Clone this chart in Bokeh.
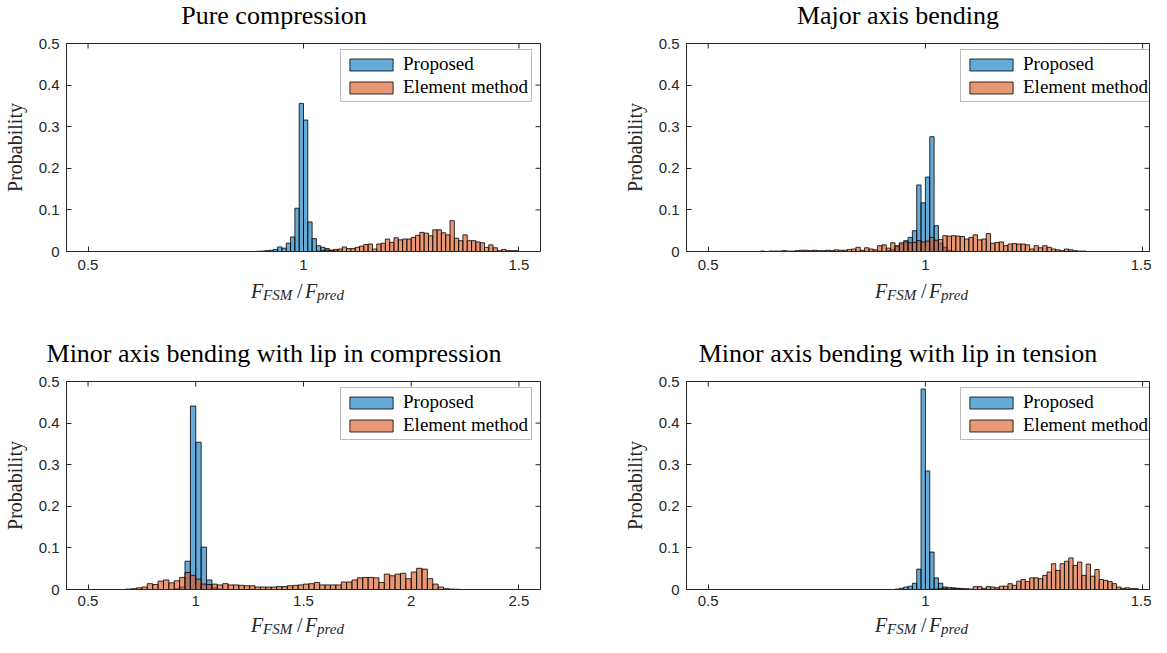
import numpy as np
from bokeh.plotting import figure
from bokeh.layouts import column, row
from bokeh.models import Range1d, FixedTicker, CustomJSTickFormatter, Legend, LegendItem, ColumnDataSource
from bokeh.core.properties import value
from bokeh.embed import file_html
from bokeh.resources import INLINE

# ---------------- data (probability per bin) ----------------
SERIES_NAMES = ["Proposed", "Element method"]
TITLES = ["Pure compression", "Major axis bending",
          "Minor axis bending with lip in compression", "Minor axis bending with lip in tension"]
Y_LABEL = "Probability"
X_LABEL_PARTS = ["F", "FSM", "/", "F", "pred"]   # F_FSM / F_pred

# bins of width 0.01 starting at 0.5 (100 bins) for panels 1, 2, 4
BIN_START_A, BIN_WIDTH_A = 0.5, 0.01
# bins of width 0.025 starting at 0.5 (80 bins) for panel 3
BIN_START_B, BIN_WIDTH_B = 0.5, 0.025

pure_proposed = [
    0, 0, 0, 0, 0, 0, 0, 0, 0, 0,
    0, 0, 0, 0, 0, 0, 0, 0, 0, 0,
    0, 0, 0, 0, 0, 0, 0, 0, 0, 0,
    0, 0, 0, 0, 0, 0, 0, 0, 0, 0.0005,
    0.001, 0.002, 0.003, 0.005, 0.011, 0.008, 0.020, 0.035, 0.104, 0.356,
    0.316, 0.071, 0.031, 0.014, 0.010, 0.007, 0.003, 0.002, 0.001, 0,
    0, 0, 0, 0, 0, 0, 0, 0, 0, 0,
    0, 0, 0, 0, 0, 0, 0, 0, 0, 0,
    0, 0, 0, 0, 0, 0, 0, 0, 0, 0,
    0, 0, 0, 0, 0, 0, 0, 0, 0, 0]
pure_element = [
    0, 0, 0, 0, 0, 0, 0, 0, 0, 0,
    0, 0, 0, 0, 0, 0, 0, 0, 0, 0,
    0, 0, 0, 0, 0, 0, 0, 0, 0, 0,
    0, 0, 0, 0, 0, 0, 0, 0, 0, 0,
    0, 0, 0, 0, 0, 0, 0, 0, 0, 0,
    0, 0, 0, 0.001, 0.002, 0.003, 0.003, 0.005, 0.006, 0.011,
    0.007, 0.007, 0.010, 0.013, 0.017, 0.018, 0.006, 0.018, 0.020, 0.030,
    0.022, 0.033, 0.028, 0.030, 0.030, 0.034, 0.039, 0.046, 0.044, 0.038,
    0.052, 0.052, 0.045, 0.040, 0.074, 0.032, 0.026, 0.040, 0.026, 0.026,
    0.023, 0.021, 0.010, 0.016, 0.009, 0.002, 0.005, 0.002, 0.002, 0.002]

major_proposed = [
    0, 0, 0, 0, 0, 0, 0, 0, 0, 0,
    0, 0, 0, 0, 0, 0, 0, 0, 0, 0,
    0, 0, 0, 0, 0, 0, 0, 0, 0, 0,
    0, 0, 0, 0, 0, 0, 0, 0, 0.001, 0.001,
    0, 0.002, 0.004, 0.012, 0.018, 0.026, 0.034, 0.050, 0.160, 0.117,
    0.179, 0.276, 0.062, 0.020, 0.010, 0.003, 0.001, 0, 0, 0,
    0, 0, 0, 0, 0, 0, 0, 0, 0, 0,
    0, 0, 0, 0, 0, 0, 0, 0, 0, 0,
    0, 0, 0, 0, 0, 0, 0, 0, 0, 0,
    0, 0, 0, 0, 0, 0, 0, 0, 0, 0]
major_element = [
    0, 0, 0, 0, 0, 0, 0, 0, 0, 0,
    0, 0, 0.001, 0, 0.001, 0.001, 0.001, 0.002, 0.001, 0.001,
    0.002, 0.003, 0.003, 0.002, 0.003, 0.002, 0.002, 0.003, 0.002, 0.004,
    0.003, 0.003, 0.005, 0.006, 0.010, 0.003, 0.009, 0.006, 0.004, 0.014,
    0.016, 0.008, 0.021, 0.014, 0.021, 0.023, 0.021, 0.022, 0.026, 0.023,
    0.025, 0.034, 0.027, 0.029, 0.038, 0.037, 0.038, 0.037, 0.036, 0.030,
    0.034, 0.040, 0.028, 0.030, 0.043, 0.020, 0.022, 0.023, 0.014, 0.018,
    0.019, 0.018, 0.018, 0.016, 0.006, 0.014, 0.009, 0.014, 0.010, 0.006,
    0.004, 0.002, 0.006, 0.004, 0.002, 0.001, 0.001, 0, 0, 0,
    0, 0, 0, 0, 0, 0, 0, 0, 0, 0]

lipc_proposed = [
    0, 0, 0, 0, 0, 0, 0, 0, 0, 0,
    0, 0, 0, 0, 0, 0, 0.002, 0.006, 0.068, 0.441,
    0.354, 0.102, 0.023, 0.004, 0.001, 0, 0, 0, 0, 0,
    0, 0, 0, 0, 0, 0, 0, 0, 0, 0,
    0, 0, 0, 0, 0, 0, 0, 0, 0, 0,
    0, 0, 0, 0, 0, 0, 0, 0, 0, 0,
    0, 0, 0, 0, 0, 0, 0, 0, 0, 0,
    0, 0, 0, 0, 0, 0, 0, 0, 0, 0]
lipc_element = [
    0, 0, 0, 0, 0, 0, 0, 0.001, 0.002, 0.004,
    0.006, 0.014, 0.012, 0.020, 0.023, 0.016, 0.021, 0.029, 0.041, 0.034,
    0.025, 0.013, 0.012, 0.013, 0.011, 0.014, 0.011, 0.011, 0.010, 0.009,
    0.009, 0.006, 0.006, 0.006, 0.006, 0.007, 0.007, 0.009, 0.010, 0.011,
    0.013, 0.014, 0.017, 0.011, 0.011, 0.011, 0.011, 0.018, 0.018, 0.023,
    0.028, 0.029, 0.029, 0.028, 0.017, 0.037, 0.033, 0.037, 0.039, 0.026,
    0.042, 0.051, 0.049, 0.026, 0.013, 0.006, 0.002, 0.001, 0.0005, 0,
    0, 0, 0, 0, 0, 0, 0, 0, 0, 0]

lipt_proposed = [
    0, 0, 0, 0, 0, 0, 0, 0, 0, 0,
    0, 0, 0, 0, 0, 0, 0, 0, 0, 0,
    0, 0, 0, 0, 0, 0, 0, 0, 0, 0,
    0, 0, 0, 0, 0, 0, 0, 0, 0, 0,
    0, 0, 0, 0.001, 0.003, 0.006, 0.008, 0.015, 0.049, 0.482,
    0.285, 0.090, 0.028, 0.015, 0.006, 0.005, 0.004, 0.002, 0.001, 0,
    0, 0, 0, 0, 0, 0, 0, 0, 0, 0,
    0, 0, 0, 0, 0, 0, 0, 0, 0, 0,
    0, 0, 0, 0, 0, 0, 0, 0, 0, 0,
    0, 0, 0, 0, 0, 0, 0, 0, 0, 0]
lipt_element = [
    0, 0, 0, 0, 0, 0, 0, 0, 0, 0,
    0, 0, 0, 0, 0, 0, 0, 0, 0, 0,
    0, 0, 0, 0, 0, 0, 0, 0, 0, 0,
    0, 0, 0, 0, 0, 0, 0, 0, 0, 0,
    0, 0, 0, 0, 0, 0, 0, 0, 0, 0,
    0, 0.001, 0.001, 0.002, 0.002, 0.001, 0.002, 0.003, 0.002, 0.002,
    0.001, 0.007, 0.007, 0.003, 0.007, 0.006, 0.004, 0.008, 0.008, 0.014,
    0.010, 0.020, 0.024, 0.019, 0.028, 0.028, 0.026, 0.034, 0.042, 0.062,
    0.046, 0.062, 0.068, 0.076, 0.058, 0.066, 0.034, 0.061, 0.032, 0.048,
    0.024, 0.022, 0.019, 0.014, 0.006, 0.003, 0.004, 0.002, 0.002, 0]

XTICKS_A = [0.5, 1, 1.5]
XTICKS_B = [0.5, 1, 1.5, 2, 2.5]
YTICKS = [0, 0.1, 0.2, 0.3, 0.4, 0.5]

# ---------------- style / layout ----------------
BLUE = "#0072BD"
ORANGE = "#D95319"
AXC = "#262626"
SANS = "Liberation Sans"
SERIF = "Liberation Serif"
FH = 208             # frame height (px)
PX_PER_UNIT = 483 / 1.1
W_L, W_R = 620, 531  # column widths
BL_L, BR_L = 57, 80  # left column borders
BL_R, BR_R = 61, 2   # right column borders
TICK = 5


def make_panel(blue, orange, b0, bw, xr, xticks, width, bl, br, bt, bb, x_standoff):
    height = bt + FH + bb
    p = figure(width=width, height=height, x_range=Range1d(*xr), y_range=Range1d(0, 0.5),
               output_backend="svg", toolbar_location=None, title=None,
               min_border_left=bl, min_border_right=br, min_border_top=bt, min_border_bottom=bb)
    p.background_fill_color = "white"
    p.border_fill_color = "white"
    p.outline_line_color = AXC
    p.outline_line_width = 1
    p.xgrid.visible = False
    p.ygrid.visible = False

    n = len(blue)
    left = b0 + bw * np.arange(n)
    src_b = ColumnDataSource(dict(left=left, right=left + bw, top=blue))
    src_o = ColumnDataSource(dict(left=left, right=left + bw, top=orange))
    rb = p.quad(left="left", right="right", bottom=0, top="top", source=src_b,
                fill_color=BLUE, fill_alpha=0.6, line_color="black", line_width=0.8)
    ro = p.quad(left="left", right="right", bottom=0, top="top", source=src_o,
                fill_color=ORANGE, fill_alpha=0.6, line_color="black", line_width=0.8)

    # box ticks on the top and right edges (MATLAB style box)
    fw = width - bl - br
    dy = TICK * 0.5 / FH
    dx = TICK * (xr[1] - xr[0]) / fw
    p.segment(x0=xticks, x1=xticks, y0=[0.5] * len(xticks), y1=[0.5 - dy] * len(xticks),
              line_color=AXC, line_width=1)
    p.segment(x0=[xr[1]] * len(YTICKS), x1=[xr[1] - dx] * len(YTICKS), y0=YTICKS, y1=YTICKS,
              line_color=AXC, line_width=1)

    fmt = CustomJSTickFormatter(code="return String(Math.round(tick*100)/100);")
    for ax, tk in ((p.xaxis[0], xticks), (p.yaxis[0], YTICKS)):
        ax.ticker = FixedTicker(ticks=tk)
        ax.formatter = fmt
        ax.major_tick_in = TICK
        ax.major_tick_out = 0
        ax.minor_tick_line_color = None
        ax.major_tick_line_color = AXC
        ax.axis_line_color = AXC
        ax.major_label_text_font = SANS
        ax.major_label_text_font_size = "15px"
        ax.major_label_text_color = AXC
    p.xaxis.major_label_standoff = x_standoff
    p.yaxis.major_label_standoff = 7
    p.yaxis.axis_label = Y_LABEL
    p.yaxis.axis_label_text_font = SERIF
    p.yaxis.axis_label_text_font_size = "20px"
    p.yaxis.axis_label_text_font_style = "normal"
    p.yaxis.axis_label_text_color = AXC
    p.yaxis.axis_label_standoff = 10

    leg = Legend(items=[LegendItem(label=SERIES_NAMES[0], renderers=[rb]),
                        LegendItem(label=SERIES_NAMES[1], renderers=[ro])],
                 location=(274, 149), glyph_width=54, glyph_height=15, label_height=15,
                 label_text_font=SERIF, label_text_font_size="19px", label_text_color="black",
                 spacing=1, padding=3, margin=0, label_standoff=5,
                 border_line_color="#7a7a7a", border_line_width=1,
                 background_fill_color="white", background_fill_alpha=1)
    p.add_layout(leg)
    return p


def text_strip(width, height, titles=(), xlabels=()):
    """A figure holding only texts: titles (centre x, middle y) and x-labels (centre x, middle y)."""
    f = figure(width=width, height=height, x_range=Range1d(0, width), y_range=Range1d(0, height),
               output_backend="svg", toolbar_location=None, title=None,
               x_axis_type=None, y_axis_type=None, min_border=0)
    f.outline_line_color = None
    f.background_fill_color = "white"
    f.border_fill_color = "white"
    for (tx, ty, txt) in titles:
        f.text(x=[tx], y=[ty], text=[txt], text_font=value(SERIF), text_font_size="26px",
               text_align="center", text_baseline="middle", text_color="black")
    for (cx, my) in xlabels:
        start = cx - 48
        offs = [(0, 0, "20px", "italic"), (12, -4, "15px", "italic"), (46, 0, "20px", "normal"),
                (54, 0, "20px", "italic"), (66, -4, "15px", "italic")]
        for txt, (dx, ddy, fs, st) in zip(X_LABEL_PARTS, offs):
            f.text(x=[start + dx], y=[my + ddy], text=[txt], text_font=value(SERIF),
                   text_font_size=fs, text_font_style=st, text_align="left",
                   text_baseline="middle", text_color=AXC)
    return f


x_end_right = 0.45 + (W_R - BL_R - BR_R) / PX_PER_UNIT

# top row (page y: frame 51..259)
p1 = make_panel(pure_proposed, pure_element, BIN_START_A, BIN_WIDTH_A, (0.45, 1.55),
                XTICKS_A, W_L, BL_L, BR_L, 13, 28, 8)
p2 = make_panel(major_proposed, major_element, BIN_START_A, BIN_WIDTH_A, (0.45, x_end_right),
                XTICKS_A, W_R, BL_R, BR_R, 13, 28, 8)
# bottom row (page y: frame 389..597)
p3 = make_panel(lipc_proposed, lipc_element, BIN_START_B, BIN_WIDTH_B, (0.4, 2.6),
                XTICKS_B, W_L, BL_L, BR_L, 13, 23, 6)
p4 = make_panel(lipt_proposed, lipt_element, BIN_START_A, BIN_WIDTH_A, (0.45, x_end_right),
                XTICKS_A, W_R, BL_R, BR_R, 13, 23, 6)

TITLE_DX = 216.5        # title centre, measured from frame left
XL_DX = 241.5           # x-label centre, measured from frame left
t_top_l = text_strip(W_L, 30, titles=[(BL_L + TITLE_DX, 15, TITLES[0])])
t_top_r = text_strip(W_R, 30, titles=[(BL_R + TITLE_DX, 15, TITLES[1])])
mid_l = text_strip(W_L, 89, titles=[(BL_L + TITLE_DX, 15, TITLES[2])], xlabels=[(BL_L + XL_DX, 78)])
mid_r = text_strip(W_R, 89, titles=[(BL_R + TITLE_DX, 15, TITLES[3])], xlabels=[(BL_R + XL_DX, 78)])
bot_l = text_strip(W_L, 25, xlabels=[(BL_L + XL_DX, 13)])
bot_r = text_strip(W_R, 25, xlabels=[(BL_R + XL_DX, 13)])

layout = column(row(t_top_l, t_top_r), row(p1, p2), row(mid_l, mid_r),
                row(p3, p4), row(bot_l, bot_r))
open("out.html", "w").write(file_html(layout, INLINE))
